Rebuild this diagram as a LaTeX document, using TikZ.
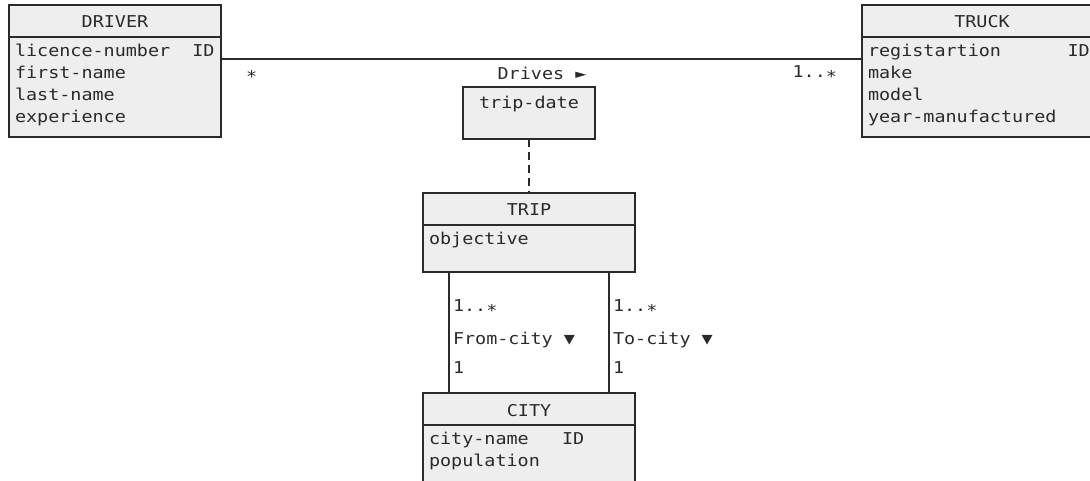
\documentclass[tikz,border=0pt]{standalone}
\usepackage{fontspec}
\setmonofont[FakeStretch=1.13]{DejaVu Sans Mono}
\usetikzlibrary{positioning}
\definecolor{boxgray}{HTML}{EEEEEE}
\definecolor{ink}{HTML}{2A2A2A}
\newcommand{\manystar}{\raisebox{-0.25em}{*}}

\tikzset{
  uml/.style={draw=ink, fill=boxgray, line width=1.3pt, outer sep=0pt, inner sep=0pt},
  head/.style={uml, minimum width=#1, minimum height=32pt,
    text height=14pt, text depth=0pt, anchor=north west},
  attrs/.style={anchor=north west, align=left, inner xsep=6pt, inner ysep=4.8pt, outer sep=0pt},
  mult/.style={inner sep=0pt, outer sep=0pt},
  conn/.style={draw=ink, line width=1.3pt},
}

\begin{document}
\begin{tikzpicture}[x=1pt, y=-1pt, text=ink,
    font=\ttfamily\fontsize{16.3}{21.7}\selectfont]
  \path[use as bounding box, clip] (0,0) rectangle (1090,481);
  % classes
  \node[head=212pt] (driver) at (9,5) {DRIVER};
  \node[uml, minimum width=212pt, minimum height=100pt, below=0pt of driver] (driverbody) {};
  \node[attrs] (driverattrs) at (driverbody.north west)
    {\strut licence-number~~ID\\first-name\\last-name\\experience};
  \node[head=240pt] (truck) at (862,5) {TRUCK};
  \node[uml, minimum width=240pt, minimum height=100pt, below=0pt of truck] (truckbody) {};
  \node[attrs] (truckattrs) at (truckbody.north west)
    {\strut registartion~~~~~~ID\\make\\model\\year-manufactured};
  \node[head=212pt] (trip) at (423,193) {TRIP};
  \node[uml, minimum width=212pt, minimum height=47pt, below=0pt of trip] (tripbody) {};
  \node[attrs] (tripattrs) at (tripbody.north west) {\strut objective};
  \node[head=212pt] (city) at (423,393) {CITY};
  \node[uml, minimum width=212pt, minimum height=80pt, below=0pt of city] (citybody) {};
  \node[attrs] (cityattrs) at (citybody.north west) {\strut city-name~~~ID\\population};
  % Drives, with its association class
  \draw[conn] (driverbody.east |- 0,59) -- (truckbody.west |- 0,59);
  \node[uml, minimum width=132pt, minimum height=52pt, text height=14pt, text depth=22pt,
    anchor=north] (tripdate) at (driverbody.east -| trip.north |- 0,59) {trip-date};
  \draw[conn, dash pattern=on 8pt off 5pt] (tripdate.south) -- (trip.north);
  \node[mult, anchor=base] (drives) at ([xshift=13pt,yshift=7pt]tripdate.north) {Drives ►};
  \node[mult, anchor=base west] (drivermult) at ([xshift=25pt,yshift=-41pt]driverbody.north east) {\manystar};
  \node[mult, anchor=base east] (truckmult) at ([xshift=-25pt,yshift=-41pt]truckbody.north west) {1..\manystar};
  % From-city and To-city
  \coordinate (fromtop) at ([xshift=26pt]tripbody.south west);
  \coordinate (totop) at ([xshift=-26pt]tripbody.south east);
  \draw[conn] (fromtop) -- (fromtop |- city.north);
  \draw[conn] (totop) -- (totop |- city.north);
  \node[mult, anchor=base west] (frommany) at ([xshift=4pt,yshift=-40pt]fromtop) {1..\manystar};
  \node[mult, anchor=base west] (fromname) at ([xshift=4pt,yshift=-72pt]fromtop) {From-city ▼};
  \node[mult, anchor=base west] (fromone) at ([xshift=4pt,yshift=-101pt]fromtop) {1};
  \node[mult, anchor=base west] (tomany) at ([xshift=4pt,yshift=-40pt]totop) {1..\manystar};
  \node[mult, anchor=base west] (toname) at ([xshift=4pt,yshift=-72pt]totop) {To-city ▼};
  \node[mult, anchor=base west] (toone) at ([xshift=4pt,yshift=-101pt]totop) {1};
\end{tikzpicture}
\end{document}
